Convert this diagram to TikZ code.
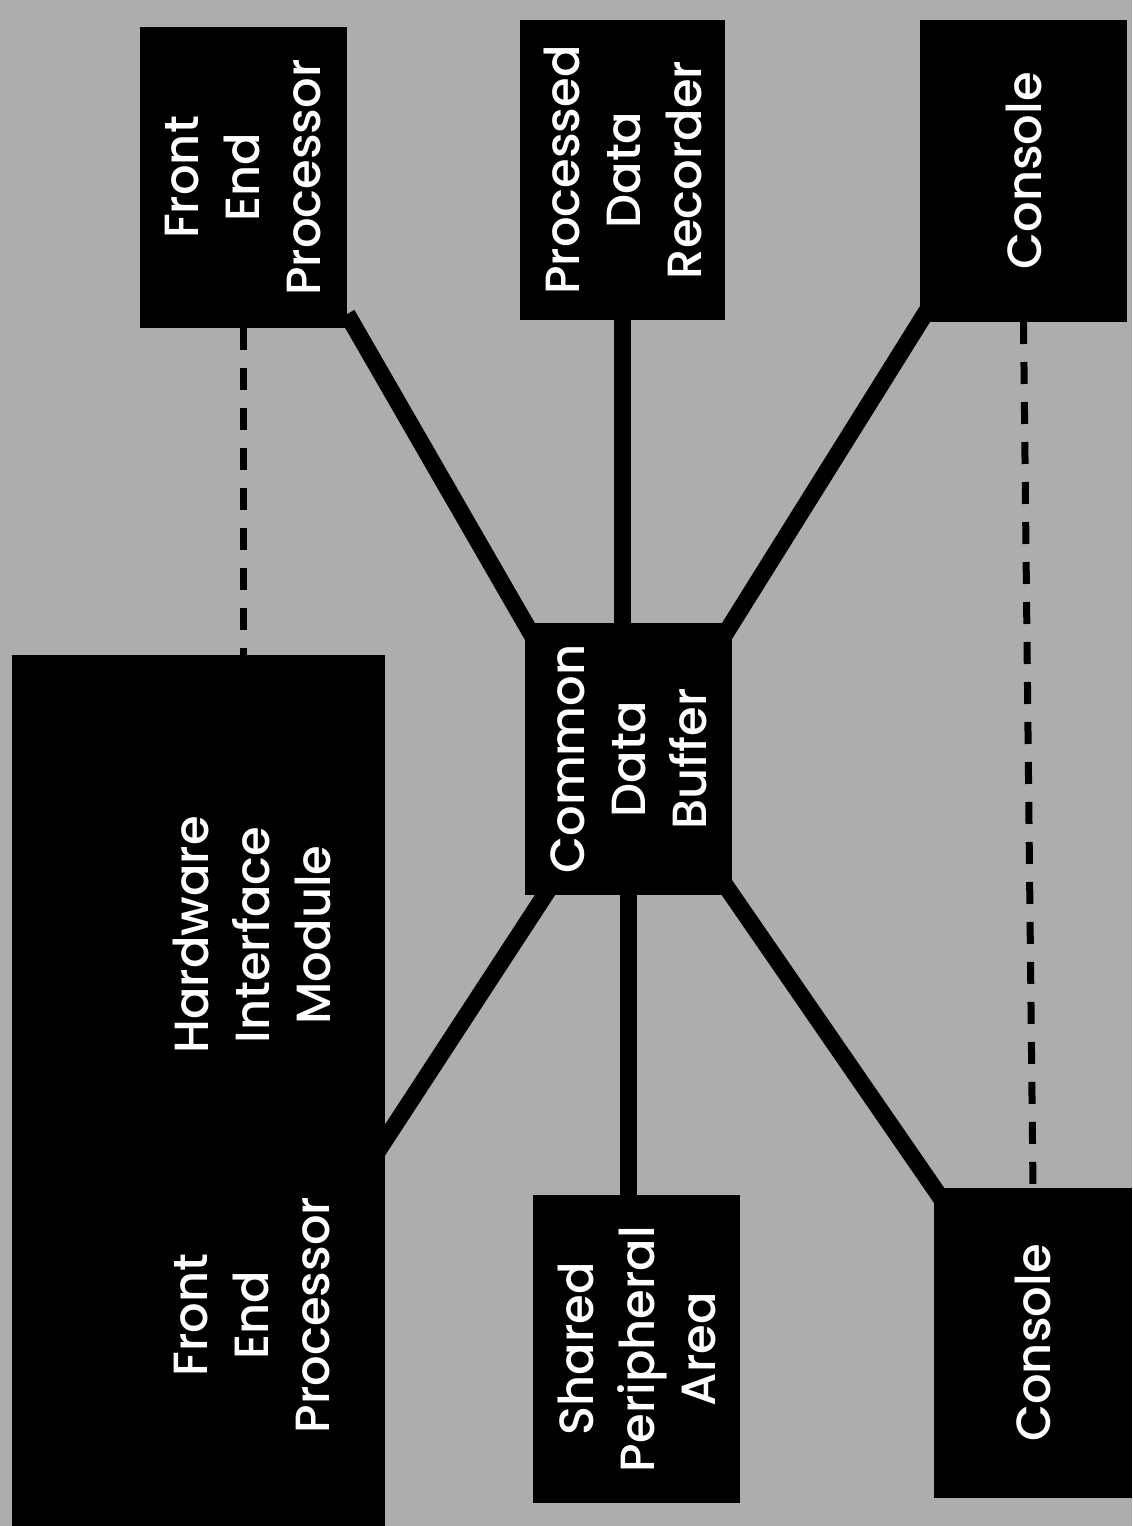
\documentclass[tikz,border=0pt]{standalone}
\usepackage{fontspec}
\setmainfont{Poppins Medium}
\usepackage[usenames,dvipsnames,svgnames,table]{xcolor}
\usetikzlibrary{calc}
\usetikzlibrary{fit}
\usetikzlibrary{positioning}

\definecolor{scanGray}{gray}{0.68}
\pgfdeclarelayer{wires}
\pgfsetlayers{wires,main}

\begin{document}
\begin{tikzpicture}[x = 0.5pt, y = -0.5pt,
		box/.style = {fill = black, inner sep = 0pt, outer sep = 0pt},
		lbl/.style = {text = white, align = center, rotate = 90, inner sep = 0pt, font = \fontsize{24}{30.5}\selectfont},
		bus/.style = {line width = 8.5pt, shorten < = -8pt, shorten > = -8pt},
		link/.style = {line width = 3.5pt, dash pattern = on 11pt off 9pt}]
		\node[box, fit = {(140,27) (347,328)}] (fep) {};
		\node[box, fit = {(520,20) (725,320)}] (pdr) {};
		\node[box, fit = {(920,20) (1127,322)}] (conTop) {};
		\node[box, fit = {(525,623) (732,895)}] (cdb) {};
		\node[box, fit = {(12,655) (385,1140)}] (him) {};
		\node[box, fit = {(12,1140) (385,1526)}] (fepLow) {};
		\node[box, fit = {(533,1195) (740,1503)}] (spa) {};
		\node[box, fit = {(934,1188) (1132,1498)}] (conLow) {};
		\begin{pgfonlayer}{wires}
		\fill[scanGray] (0,0) rectangle (1132,1526);
		\draw[bus] ([xshift = 4pt]fep.south east) -- (cdb.north west);
		\draw[bus] (pdr.south) -- (pdr.south |- cdb.north);
		\draw[bus] (conTop.south west) -- (cdb.north east);
		\draw[bus] ([xshift = 10pt]cdb.south west) -- (him.south east);
		\draw[bus] (cdb.south) -- (cdb.south |- spa.north);
		\draw[bus] (cdb.south east) -- (conLow.north west);
		\end{pgfonlayer}
		\draw[link] (fep.south) -- (fep.south |- him.north);
		\draw[link] (conTop.south) -- (conLow.north);
		\node[lbl] (fepName) at (fep.center) {Front\\End\\Processor};
		\node[lbl] (pdrName) at (pdr.center) {Processed\\Data\\Recorder};
		\node[lbl] (conTopName) at (conTop.center) {Console};
		\node[lbl] (cdbName) at (cdb.center) {Common\\Data\\Buffer};
		\node[lbl] (himName) at (252,935) {Hardware\\Interface\\Module};
		\node[lbl] (fepLowName) at (252,1315) {Front\\End\\Processor};
		\node[lbl] (spaName) at (spa.center) {Shared\\Peripheral\\Area};
		\node[lbl] (conLowName) at (conLow.center) {Console};
		\useasboundingbox (0,0) rectangle (1132,1526);
\end{tikzpicture}
\end{document}
